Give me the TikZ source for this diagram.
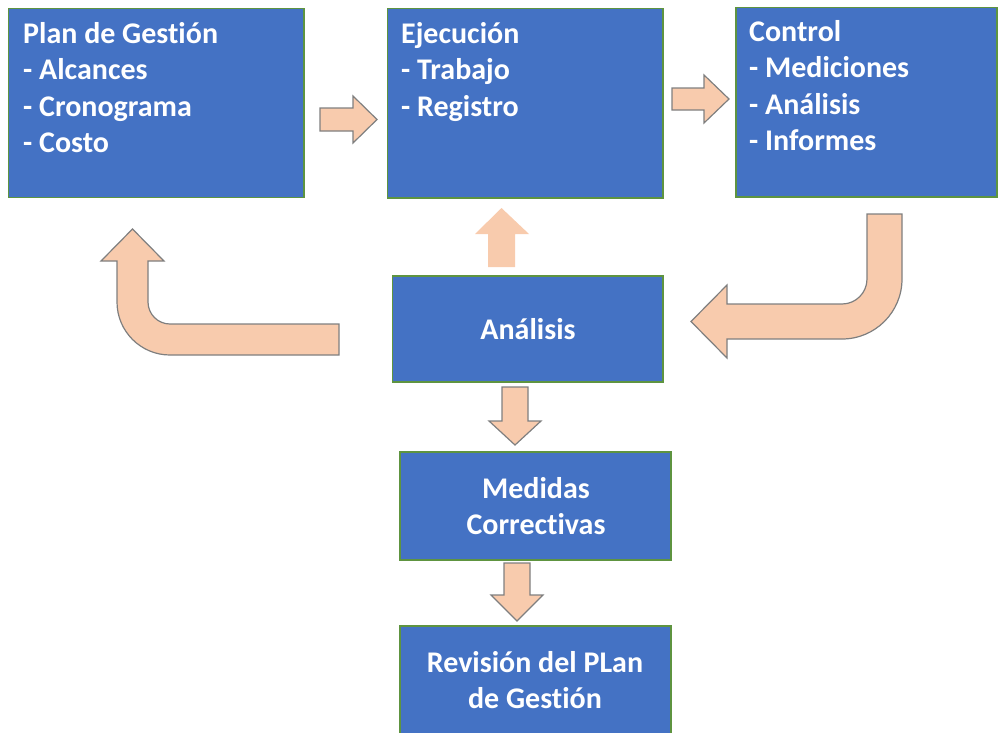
\documentclass[tikz,border=0pt]{standalone}
\usepackage{fontspec}
\setmainfont{Carlito}[Ligatures=NoCommon]
\definecolor{boxblue}{HTML}{4472C4}
\definecolor{boxline}{HTML}{5E9440}
\definecolor{arrowfill}{HTML}{F8CBAD}
\definecolor{arrowline}{HTML}{7F7F7F}
\begin{document}
\begin{tikzpicture}[x=1pt,y=-1pt,
  box/.style={draw=boxline, line width=1.5pt, fill=boxblue, inner sep=0pt, outer sep=0pt, anchor=north west},
  boxtext/.style={text=white, font=\bfseries\fontsize{30}{36.5}\selectfont, inner sep=0pt, align=left, anchor=base west},
  ctext/.style={text=white, font=\bfseries\fontsize{30}{36}\selectfont, inner sep=0pt, align=center},
  blockarrow/.style={fill=arrowfill, draw=arrowline, line width=1.2pt, line join=miter},
]
\useasboundingbox (0,0) rectangle (1001,732);
\clip (0,0) rectangle (1001,732);

% process boxes
\node[box, minimum width=295.5pt, minimum height=189pt] (plan) at (8.5,8.5) {};
\node[box, minimum width=275.5pt, minimum height=189.5pt] (ejec) at (387.5,8.5) {};
\node[box, minimum width=261pt, minimum height=189.5pt] (ctrl) at (736,7.5) {};
\node[box, minimum width=270.5pt, minimum height=106pt] (anal) at (392.5,276) {};
\node[box, minimum width=271pt, minimum height=108pt] (medidas) at (400,452) {};
\node[box, minimum width=271pt, minimum height=109pt] (revision) at (400,626) {};

% box texts (anchored at the baseline of their last line)
\node[boxtext] (planT) at (23,152.5) {Plan de Gestión\\- Alcances\\- Cronograma\\- Costo};
\node[boxtext] (ejecT) at (401,116) {Ejecución\\- Trabajo\\- Registro};
\node[boxtext] (ctrlT) at (749,150.5) {Control\\- Mediciones\\- Análisis\\- Informes};
\node[ctext] (analT) at (528,329) {Análisis};
\node[ctext] (medidasT) at (536,506) {Medidas\\Correctivas};
\node[ctext] (revisionT) at (535,680.5) {Revisión del PLan\\de Gestión};

% straight block arrows
\draw[blockarrow] (320,108) -- (353,108) -- (353,96) -- (377,119.5) -- (353,143) -- (353,131) -- (320,131) -- cycle;
\draw[blockarrow] (672,88) -- (704,88) -- (704,75) -- (729,99) -- (704,123) -- (704,110) -- (672,110) -- cycle;
\fill[arrowfill] (488,267) -- (488,234) -- (475,234) -- (501.5,208) -- (529,234) -- (515,234) -- (515,267) -- cycle;
\draw[blockarrow] (502,387) -- (528,387) -- (528,421) -- (541,421) -- (515,445) -- (489,421) -- (502,421) -- cycle;
\draw[blockarrow] (504,563) -- (530,563) -- (530,595) -- (543,595) -- (517,621) -- (491,595) -- (504,595) -- cycle;

% bent arrow back to the plan
\draw[blockarrow] (339,355) -- (170,355) arc[start angle=90, end angle=180, radius=53]
  -- (117,261) -- (101,261) -- (132.5,229) -- (164,261) -- (148,261) -- (148,302)
  arc[start angle=180, end angle=90, radius=22] -- (339,324) -- cycle;

% bent arrow from control to the analysis
\draw[blockarrow] (902,214) -- (902,279) arc[start angle=0, end angle=90, radius=60]
  -- (727,339) -- (727,358) -- (691,321.5) -- (727,285) -- (727,304) -- (842,304)
  arc[start angle=90, end angle=0, radius=25] -- (867,214) -- cycle;
\end{tikzpicture}
\end{document}
